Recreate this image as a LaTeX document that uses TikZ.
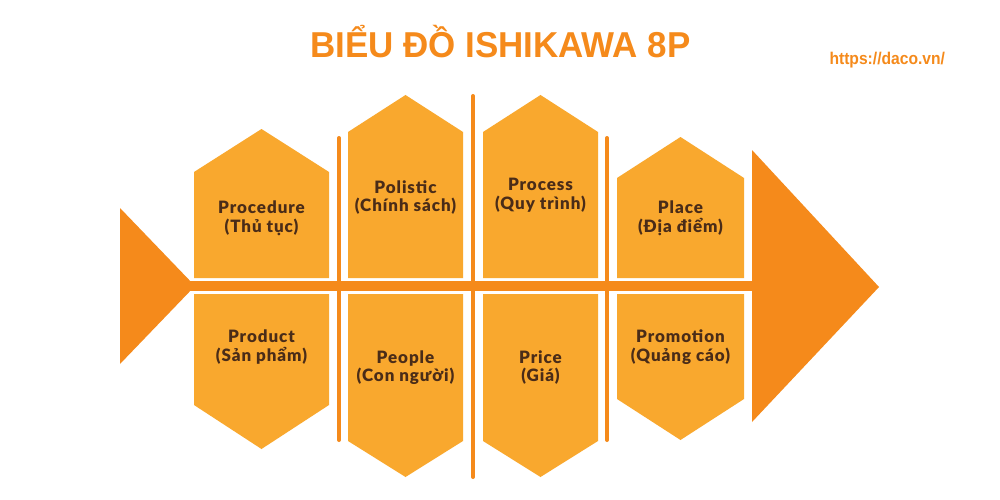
\documentclass[tikz,border=0pt]{standalone}
\usepackage{fontspec}
\IfFontExistsTF{Lato Black}
  {\setmainfont{Lato}[BoldFont={Lato Black}, LetterSpace=5.5]}
  {\setmainfont{Lato}[LetterSpace=7.0]}
\newfontfamily\titlefont[FakeStretch=0.97]{Liberation Sans}
\newfontfamily\urlfont[FakeStretch=0.92]{Liberation Sans}
\definecolor{fishorange}{HTML}{F58A1B}
\definecolor{boxorange}{HTML}{F9A82E}
\definecolor{labelbrown}{HTML}{4A2C18}
\begin{document}
\begin{tikzpicture}[x=1pt,y=-1pt,
  bone/.style={fill=fishorange},
  box/.style={fill=boxorange},
  rib/.style={draw=fishorange, line width=4pt, line cap=round},
  lbl/.style={anchor=base, text=labelbrown, inner sep=0pt,
    font=\bfseries\fontsize{17}{19}\selectfont},
]
\useasboundingbox[fill=white] (0,0) rectangle (1000,500);

% spine, tail, head
\fill[bone] (188,281) rectangle (754,291);
\fill[bone] (120,208) -- (195,286) -- (120,364) -- cycle;
\fill[bone] (752,150) -- (879,287) -- (752,422) -- cycle;

% ribs
\draw[rib] (339,138) -- (339,440);
\draw[rib] (473,96) -- (473,477);
\draw[rib] (607,138) -- (607,440);

% upper boxes
\fill[box] (194,278) -- (194,172) -- (261.5,129) -- (329,172) -- (329,278) -- cycle;
\fill[box] (348,278) -- (348,132) -- (405.5,95) -- (463,132) -- (463,278) -- cycle;
\fill[box] (483,278) -- (483,132) -- (540.5,95) -- (598,132) -- (598,278) -- cycle;
\fill[box] (617,278) -- (617,178) -- (680.5,137) -- (744,178) -- (744,278) -- cycle;

% lower boxes
\fill[box] (194,294) -- (194,405) -- (261.5,449) -- (329,405) -- (329,294) -- cycle;
\fill[box] (348,294) -- (348,441) -- (405.5,477) -- (463,441) -- (463,294) -- cycle;
\fill[box] (483,294) -- (483,441) -- (540.5,477) -- (598,441) -- (598,294) -- cycle;
\fill[box] (617,294) -- (617,399) -- (680.5,440) -- (744,399) -- (744,294) -- cycle;

% labels
\node[lbl] (procA) at (261.5,213.3) {Procedure};
\node[lbl] (procB) at (261.5,232) {(Thủ tục)};
\node[lbl] (polA) at (405.5,193) {Polistic};
\node[lbl] (polB) at (405.5,211.7) {(Chính sách)};
\node[lbl] (prcA) at (540.5,190.5) {Process};
\node[lbl] (prcB) at (540.5,209.2) {(Quy trình)};
\node[lbl] (plaA) at (680.5,213.3) {Place};
\node[lbl] (plaB) at (680.5,232) {(Địa điểm)};

\node[lbl] (prodA) at (261.5,342.3) {Product};
\node[lbl] (prodB) at (261.5,361) {(Sản phẩm)};
\node[lbl] (peoA) at (405.5,363) {People};
\node[lbl] (peoB) at (405.5,381.7) {(Con người)};
\node[lbl] (priA) at (540.5,363) {Price};
\node[lbl] (priB) at (540.5,381.7) {(Giá)};
\node[lbl] (proA) at (680.5,342.3) {Promotion};
\node[lbl] (proB) at (680.5,361) {(Quảng cáo)};

% title and url
\node[anchor=base, inner sep=0pt, text=fishorange,
  font=\titlefont\bfseries\fontsize{36}{40}\selectfont] (title) at (500.3,57.3) {BIỂU ĐỒ ISHIKAWA 8P};
\node[anchor=base west, inner sep=0pt, text=fishorange,
  font=\urlfont\bfseries\fontsize{17}{19}\selectfont] (url) at (829.3,65) {https://daco.vn/};
\end{tikzpicture}
\end{document}
